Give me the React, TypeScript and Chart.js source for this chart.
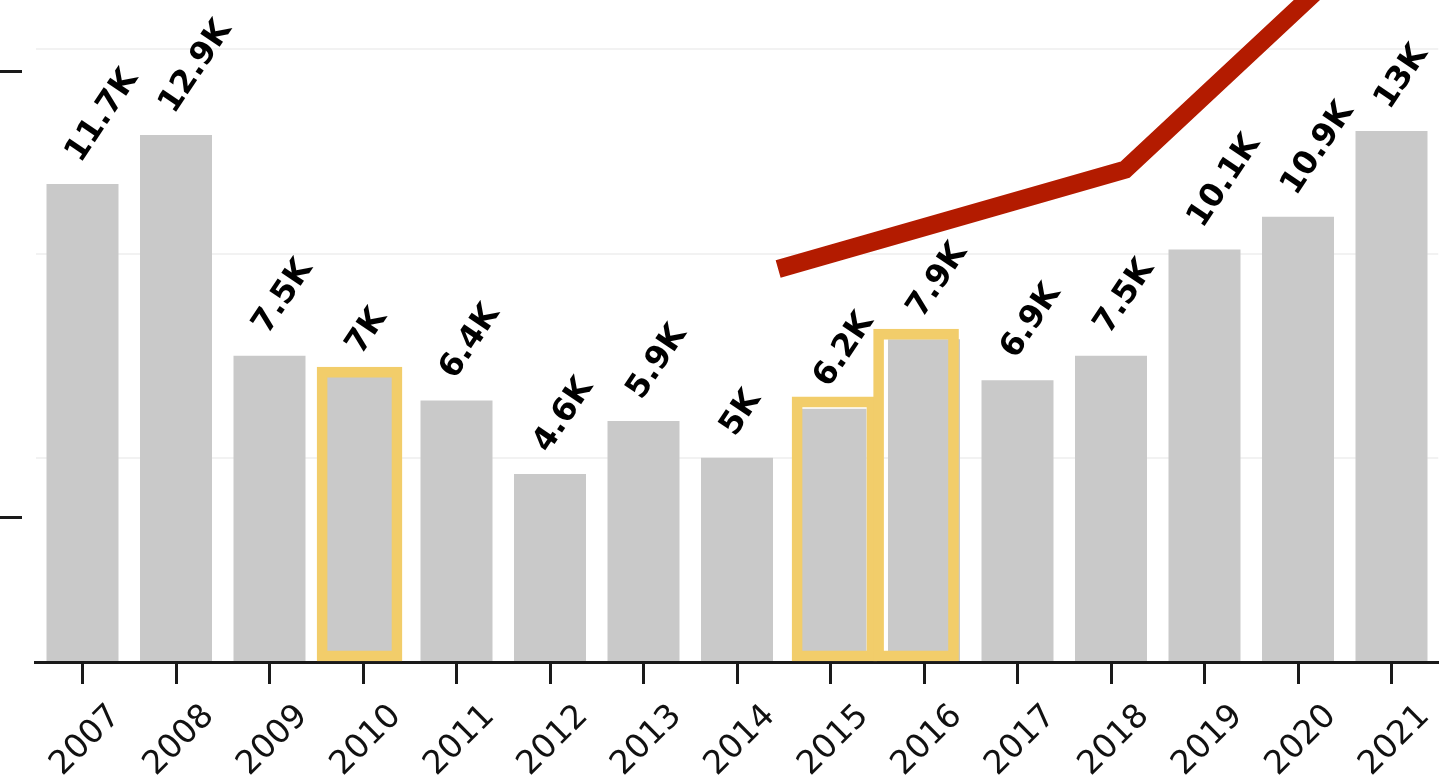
import React, { useEffect, useRef } from 'react';
import { Chart, registerables } from 'chart.js';

Chart.register(...registerables);

// ---- data ----
const years = ['2007', '2008', '2009', '2010', '2011', '2012', '2013', '2014', '2015', '2016', '2017', '2018', '2019', '2020', '2021'];
const barValues = [11.7, 12.9, 7.5, 7, 6.4, 4.6, 5.9, 5, 6.2, 7.9, 6.9, 7.5, 10.1, 10.9, 13];
// highlighted boxes (position on the category index axis, top value in K)
const highlightX = [2.963, 8.043, 8.915];
const highlightTop = [7.22, 6.49, 8.15];
// red trend line (position on the category index axis, value in K)
const trendX = [7.44, 11.15, 14];
const trendY = [9.62, 12.05, 18.14];
// y axis
const yMin = 0;
const yMax = 20;
const yStep = 5;
// outer (cropped) left axis ticks
const leftAxisTicks = [0, 1000];
const leftAxisMin = -322.9;
const leftAxisMax = 1508.9;

const fmtK = (v: number) => `${v}K`;

const CANVAS_W = 1640;
const CANVAS_H = 982;
const OFFSET_X = 200;
const OFFSET_Y = 200;

const valueLabels = {
  id: 'valueLabels',
  afterDatasetDraw(chart: any, args: any) {
    if (args.index !== 0) return;
    const meta = chart.getDatasetMeta(0);
    const ctx = chart.ctx;
    ctx.save();
    ctx.font = 'bold 32px "DejaVu Sans"';
    ctx.fillStyle = '#000';
    ctx.textAlign = 'left';
    ctx.textBaseline = 'middle';
    meta.data.forEach((el: any, i: number) => {
      const { x, y } = el.getProps(['x', 'y'], true);
      ctx.save();
      ctx.translate(x - 9, y - 25);
      ctx.rotate((-56 * Math.PI) / 180);
      ctx.fillText(fmtK(barValues[i]), 0, 0);
      ctx.restore();
    });
    ctx.restore();
  },
};

export default function App() {
  const ref = useRef<HTMLCanvasElement | null>(null);

  useEffect(() => {
    if (!ref.current) return;
    Chart.defaults.font.family = '"DejaVu Sans"';
    const chart = new Chart(ref.current, {
      type: 'bar',
      data: {
        labels: years,
        datasets: [
          {
            type: 'bar',
            data: barValues,
            backgroundColor: '#c9c9c9',
            borderWidth: 0,
            barPercentage: 0.77,
            categoryPercentage: 1,
            grouped: false,
            xAxisID: 'x',
            yAxisID: 'y',
            order: 3,
          } as any,
          {
            type: 'bar',
            data: highlightX.map((x, i) => ({ x, y: highlightTop[i] })),
            backgroundColor: 'rgba(0,0,0,0)',
            borderColor: '#f2cd6a',
            borderWidth: 10,
            borderSkipped: false,
            barThickness: 85,
            grouped: false,
            xAxisID: 'x2',
            yAxisID: 'y',
            order: 2,
          } as any,
          {
            type: 'line',
            data: trendX.map((x, i) => ({ x, y: trendY[i] })),
            borderColor: '#b31b00',
            borderWidth: 18,
            borderCapStyle: 'butt',
            borderJoinStyle: 'miter',
            pointRadius: 0,
            tension: 0,
            fill: false,
            xAxisID: 'x2',
            yAxisID: 'y',
            order: 1,
          } as any,
        ],
      },
      options: {
        responsive: false,
        animation: false,
        devicePixelRatio: 1,
        layout: { padding: { left: 0, right: 1.75, top: 45, bottom: 0 } },
        plugins: {
          legend: { display: false },
          tooltip: { enabled: false },
        },
        scales: {
          x: {
            type: 'category',
            position: 'bottom',
            offset: true,
            grid: {
              display: true,
              drawOnChartArea: false,
              offset: false,
              drawTicks: true,
              tickLength: 22,
              tickWidth: 3,
              tickColor: '#1a1a1a',
            },
            border: { display: true, color: '#1a1a1a', width: 3 },
            ticks: {
              autoSkip: false,
              minRotation: 45,
              maxRotation: 45,
              labelOffset: 33,
              padding: 13,
              color: '#111',
              font: { size: 33, family: '"DejaVu Sans"' },
            },
            afterFit: (s: any) => {
              s.height = CANVAS_H - (OFFSET_Y + 662);
            },
          },
          x2: {
            type: 'linear',
            display: false,
            min: -0.5,
            max: 14.5,
            offset: false,
          },
          y: {
            type: 'linear',
            position: 'left',
            weight: 0,
            min: yMin,
            max: yMax,
            ticks: { display: false, stepSize: yStep },
            grid: {
              display: true,
              drawOnChartArea: true,
              drawTicks: false,
              color: 'rgba(0,0,0,0.05)',
              lineWidth: 2,
            },
            border: { display: false },
            afterFit: (s: any) => {
              s.width = 14.25;
            },
          },
          y2: {
            type: 'linear',
            position: 'left',
            weight: 1,
            min: leftAxisMin,
            max: leftAxisMax,
            ticks: { display: false },
            afterBuildTicks: (s: any) => {
              s.ticks = leftAxisTicks.map((v) => ({ value: v }));
            },
            grid: {
              display: true,
              drawOnChartArea: false,
              drawTicks: true,
              tickLength: 40,
              tickWidth: 3,
              tickColor: '#1a1a1a',
            },
            border: { display: false },
            afterFit: (s: any) => {
              s.width = OFFSET_X + 21.5;
            },
          },
        },
      } as any,
      plugins: [valueLabels],
    });
    return () => chart.destroy();
  }, []);

  return (
    <div
      style={{
        position: 'fixed',
        left: 0,
        top: 0,
        width: 1440,
        height: 778,
        overflow: 'hidden',
        background: '#fff',
      }}
    >
      <canvas
        ref={ref}
        width={CANVAS_W}
        height={CANVAS_H}
        style={{ position: 'absolute', left: -OFFSET_X, top: -OFFSET_Y, width: CANVAS_W, height: CANVAS_H }}
      />
    </div>
  );
}
